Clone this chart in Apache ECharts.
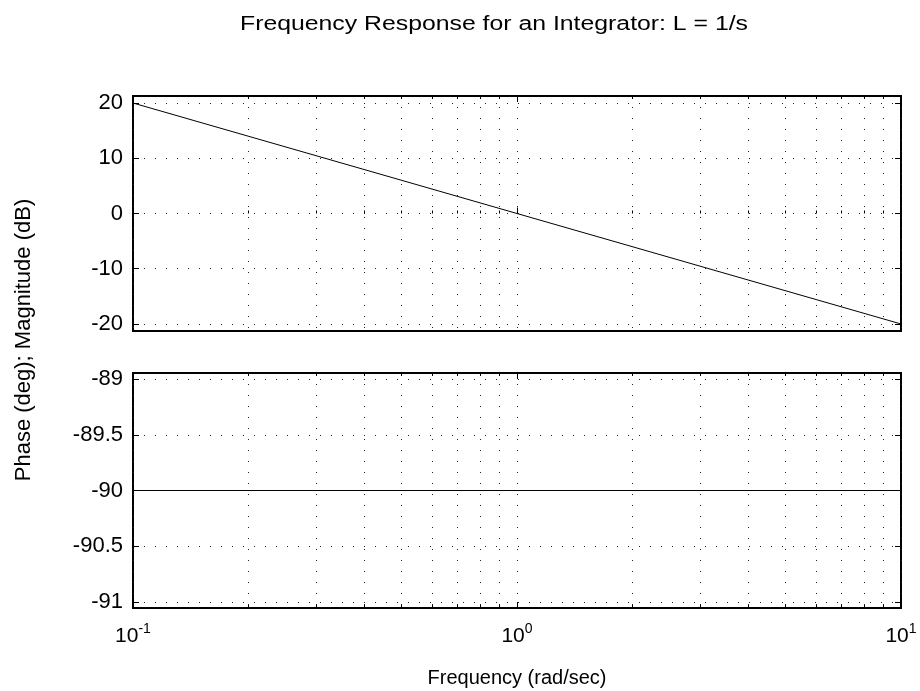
<!DOCTYPE html>
<html>
<head>
<meta charset="utf-8">
<script src="https://cdn.jsdelivr.net/npm/echarts@6/dist/echarts.min.js"></script>
<style>
  html, body { margin: 0; padding: 0; background: #fff; }
  #main { width: 920px; height: 691px; }
</style>
</head>
<body>
<div id="main"></div>
<script>
// 频率点 (rad/sec) 与幅值/相位读数
const freq = [0.1, 1, 10];
const magnitude = [20, 0, -20];
const phase = [-90, -90, -90];

// 坐标轴刻度
const majorFreq = [0.1, 1, 10];
const allFreq = [0.1, 0.2, 0.3, 0.4, 0.5, 0.6, 0.7, 0.8, 0.9,
                 1, 2, 3, 4, 5, 6, 7, 8, 9, 10];
const magTicks = [-20, -10, 0, 10, 20];
const phaseTicks = [-91, -90.5, -90, -89.5, -89];
const magRange = [-21.27, 21.27];
const phaseRange = [-91.054, -88.946];

const FONT = 'Liberation Sans, Arial, Helvetica, sans-serif';
const chart = echarts.init(document.getElementById('main'));

function xAxes(gridIndex, withLabels) {
    const base = {
        type: 'log', logBase: 10, min: 0.1, max: 10, gridIndex: gridIndex,
        axisLine: { show: false }
    };
    return [
        // 次刻度 + 网格线 (底部)
        Object.assign({}, base, {
            position: 'bottom',
            axisTick: { inside: true, length: 3, customValues: allFreq, lineStyle: { color: '#000' } },
            axisLabel: { show: false },
            splitLine: { show: true, lineStyle: { color: '#222', width: 1, type: [1, 10] } }
        }),
        // 主刻度 + 标签 (底部)
        Object.assign({}, base, {
            position: 'bottom',
            axisTick: { inside: true, length: 6, customValues: majorFreq, lineStyle: { color: '#000' } },
            axisLabel: {
                show: withLabels, customValues: majorFreq, margin: 14,
                formatter: function (v) {
                    return '{b|10}{s|' + Math.round(Math.log10(v)) + '}';
                },
                rich: {
                    b: { fontFamily: FONT, fontSize: 21, color: '#000' },
                    s: { fontFamily: FONT, fontSize: 14, color: '#000', padding: [0, 0, 14, 0] }
                }
            },
            splitLine: { show: false }
        }),
        // 顶部刻度
        Object.assign({}, base, {
            position: 'top',
            axisTick: { inside: true, length: 3, customValues: allFreq, lineStyle: { color: '#000' } },
            axisLabel: { show: false },
            splitLine: { show: false }
        }),
        Object.assign({}, base, {
            position: 'top',
            axisTick: { inside: true, length: 6, customValues: majorFreq, lineStyle: { color: '#000' } },
            axisLabel: { show: false },
            splitLine: { show: false }
        })
    ];
}

function yAxes(gridIndex, range, ticks) {
    const base = {
        type: 'value', min: range[0], max: range[1], gridIndex: gridIndex,
        axisLine: { show: false }
    };
    return [
        Object.assign({}, base, {
            position: 'left',
            axisTick: { inside: true, length: 6, customValues: ticks, lineStyle: { color: '#000' } },
            axisLabel: {
                customValues: ticks, margin: 10, color: '#000',
                fontFamily: FONT, fontSize: 22
            },
            splitLine: { show: true, lineStyle: { color: '#222', width: 1, type: [1, 10] } }
        }),
        Object.assign({}, base, {
            position: 'right',
            axisTick: { inside: true, length: 6, customValues: ticks, lineStyle: { color: '#000' } },
            axisLabel: { show: false },
            splitLine: { show: false }
        })
    ];
}

const gridBase = {
    left: 133, right: 19, height: 235,
    show: true, borderColor: '#000', borderWidth: 2, backgroundColor: 'transparent'
};

const option = {
    backgroundColor: '#fff',
    animation: false,
    grid: [
        Object.assign({}, gridBase, { top: 96 }),
        Object.assign({}, gridBase, { top: 373 })
    ],
    xAxis: xAxes(0, false).concat(xAxes(1, true)),
    yAxis: yAxes(0, magRange, magTicks).concat(yAxes(1, phaseRange, phaseTicks)),
    series: [
        {
            name: 'Magnitude', type: 'line', xAxisIndex: 0, yAxisIndex: 0,
            data: freq.map(function (f, i) { return [f, magnitude[i]]; }),
            showSymbol: false, lineStyle: { color: '#000', width: 1 }
        },
        {
            name: 'Phase', type: 'line', xAxisIndex: 4, yAxisIndex: 2,
            data: freq.map(function (f, i) { return [f, phase[i]]; }),
            showSymbol: false, lineStyle: { color: '#000', width: 1 }
        }
    ],
    graphic: [
        {
            type: 'text', x: 494, y: 24, scaleX: 1.24,
            style: { text: 'Frequency Response for an Integrator: L = 1/s', font: '20px ' + FONT, fill: '#000',
                     align: 'center', verticalAlign: 'middle' }
        },
        {
            type: 'text', x: 24, y: 340, rotation: Math.PI / 2,
            style: { text: 'Phase (deg); Magnitude (dB)', font: '22px ' + FONT, fill: '#000',
                     align: 'center', verticalAlign: 'middle' }
        },
        {
            type: 'text', x: 517, y: 678,
            style: { text: 'Frequency (rad/sec)', font: '20px ' + FONT, fill: '#000',
                     align: 'center', verticalAlign: 'middle' }
        }
    ]
};

chart.setOption(option);
</script>
</body>
</html>
